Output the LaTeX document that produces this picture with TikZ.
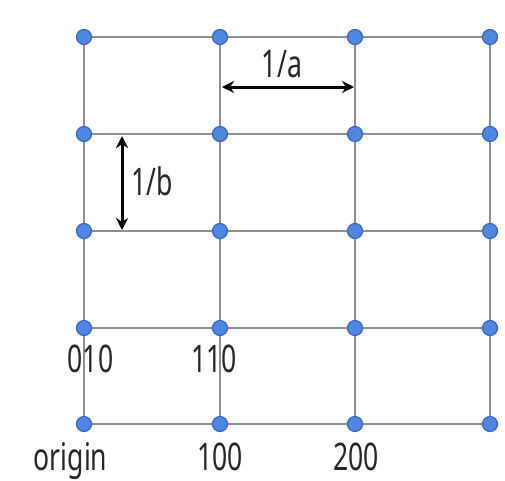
\documentclass[tikz,border=0pt]{standalone}
\usepackage{fontspec}
\setmainfont{Noto Sans}
\usetikzlibrary{arrows.meta}
\definecolor{dotfill}{HTML}{4F86E0}
\definecolor{dotedge}{HTML}{3A66B8}
\definecolor{gridgray}{HTML}{8E8E8E}
\tikzset{
  pt/.style={circle,fill=dotfill,draw=dotedge,line width=1.2pt,minimum size=15pt,inner sep=0pt},
  gline/.style={draw=gridgray,line width=1.8pt},
  dimarrow/.style={{Stealth[length=12pt,width=12pt]}-{Stealth[length=12pt,width=12pt]},line width=3pt,black},
  lbl/.style={font=\fontsize{38}{40}\selectfont,inner sep=0pt,xscale=0.7,text=black!85},
}
\begin{document}
\begin{tikzpicture}[x=1pt,y=-1pt]
\useasboundingbox (0,0) rectangle (505,480);
% grid coordinates
\foreach \c/\x in {0/84,1/220,2/355,3/490}{
  \foreach \r/\y in {0/424,1/328,2/231,3/134,4/37}{
    \coordinate (g\c\r) at (\x,\y);
  }
}
% grid lines
\foreach \r in {0,...,4}{ \draw[gline] (g0\r) -- (g3\r); }
\foreach \c in {0,...,3}{ \draw[gline] (g\c0) -- (g\c4); }
% dots
\foreach \c in {0,...,3}{
  \foreach \r in {0,...,4}{
    \node[pt] (p\c\r) at (g\c\r) {};
  }
}
% dimension arrows
\coordinate (aL) at (222,87);
\coordinate (aR) at (354,87);
\draw[dimarrow] (aL) -- (aR);
\node[lbl,anchor=base] (la) at (282,77) {1/a};
\coordinate (bT) at (122,136);
\coordinate (bB) at (122,230);
\draw[dimarrow] (bT) -- (bB);
\node[lbl,anchor=base west] (lb) at (131,195) {1/b};
% labels
\node[lbl,anchor=base] (l010) at (90.5,372) {010};
\node[lbl,anchor=base] (l110) at (214,372) {110};
\node[lbl,anchor=base] (lorigin) at (70.5,470) {origin};
\node[lbl,anchor=base] (l100) at (220,470) {100};
\node[lbl,anchor=base] (l200) at (356,470) {200};
\end{tikzpicture}
\end{document}
